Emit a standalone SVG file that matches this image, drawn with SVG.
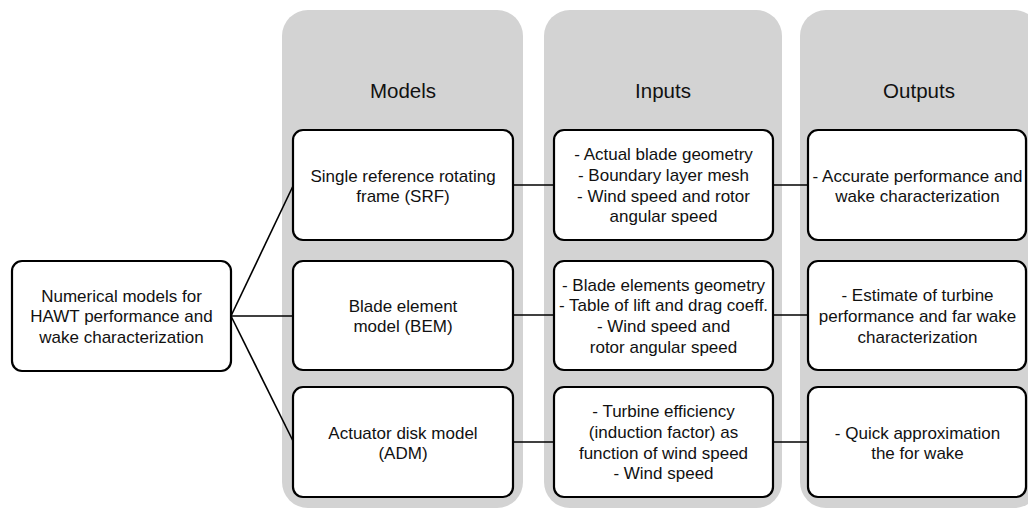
<svg xmlns="http://www.w3.org/2000/svg" width="1028" height="509" viewBox="0 0 1028 509">
<style>
.col{fill:#d3d3d3;stroke:none}
.box{fill:#fff;stroke:#000;stroke-width:2.2}
.hdr{font-family:"Liberation Sans",Arial,sans-serif;font-size:20.5px;fill:#111;text-anchor:middle}
.t{font-family:"Liberation Sans",Arial,sans-serif;font-size:17px;fill:#111;text-anchor:middle}
.c{stroke:#000;stroke-width:1.6;fill:none}
</style>
<rect width="1028" height="509" fill="#fff"/>
<g id="columns">
<rect class="col" x="282" y="10" width="241" height="498" rx="26"/>
<rect class="col" x="544" y="10" width="238" height="498" rx="26"/>
<rect class="col" x="800" y="10" width="240" height="498" rx="26"/>
<text class="hdr" x="403" y="98">Models</text>
<text class="hdr" x="663" y="98">Inputs</text>
<text class="hdr" x="919" y="98">Outputs</text>
</g>
<g id="connectors">
<line class="c" x1="231" y1="316" x2="293" y2="186"/>
<line class="c" x1="231" y1="316" x2="293" y2="316"/>
<line class="c" x1="231" y1="316" x2="293" y2="441"/>
<line class="c" x1="513" y1="185" x2="554" y2="185"/>
<line class="c" x1="773" y1="185" x2="808" y2="185"/>
<line class="c" x1="513" y1="315" x2="554" y2="315"/>
<line class="c" x1="773" y1="315" x2="808" y2="315"/>
<line class="c" x1="513" y1="442" x2="554" y2="442"/>
<line class="c" x1="773" y1="442" x2="808" y2="442"/>
</g>
<g id="root">
<rect class="box" x="12" y="261" width="219" height="110" rx="10"/>
<text class="t" x="121.5" y="301.5">Numerical models for</text>
<text class="t" x="121.5" y="322">HAWT performance and</text>
<text class="t" x="121.5" y="342.5">wake characterization</text>
</g>
<g id="srf">
<rect class="box" x="293" y="130" width="220" height="110" rx="10"/>
<text class="t" x="403" y="181.5">Single reference rotating</text>
<text class="t" x="403" y="202">frame (SRF)</text>
</g>
<g id="bem">
<rect class="box" x="293" y="261" width="220" height="109" rx="10"/>
<text class="t" x="403" y="311.5">Blade element</text>
<text class="t" x="403" y="332">model (BEM)</text>
</g>
<g id="adm">
<rect class="box" x="293" y="387" width="220" height="110" rx="10"/>
<text class="t" x="403" y="438.5">Actuator disk model</text>
<text class="t" x="403" y="459">(ADM)</text>
</g>
<g id="in-srf">
<rect class="box" x="554" y="130" width="219" height="110" rx="10"/>
<text class="t" x="663.5" y="160">- Actual blade geometry</text>
<text class="t" x="663.5" y="180.8">- Boundary layer mesh</text>
<text class="t" x="663.5" y="201.6">- Wind speed and rotor</text>
<text class="t" x="663.5" y="222.4">angular speed</text>
</g>
<g id="in-bem">
<rect class="box" x="554" y="261" width="219" height="109" rx="10"/>
<text class="t" x="663.5" y="290.5">- Blade elements geometry</text>
<text class="t" x="663.5" y="311.3">- Table of lift and drag coeff.</text>
<text class="t" x="663.5" y="332.1">- Wind speed and</text>
<text class="t" x="663.5" y="352.9">rotor angular speed</text>
</g>
<g id="in-adm">
<rect class="box" x="554" y="387" width="219" height="110" rx="10"/>
<text class="t" x="663.5" y="417">- Turbine efficiency</text>
<text class="t" x="663.5" y="437.8">(induction factor) as</text>
<text class="t" x="663.5" y="458.6">function of wind speed</text>
<text class="t" x="663.5" y="479.4">- Wind speed</text>
</g>
<g id="out-srf">
<rect class="box" x="808" y="130" width="218" height="110" rx="10"/>
<text class="t" x="917.5" y="181.5">- Accurate performance and</text>
<text class="t" x="917.5" y="202">wake characterization</text>
</g>
<g id="out-bem">
<rect class="box" x="808" y="261" width="218" height="109" rx="10"/>
<text class="t" x="917.5" y="301">- Estimate of turbine</text>
<text class="t" x="917.5" y="321.8">performance and far wake</text>
<text class="t" x="917.5" y="342.6">characterization</text>
</g>
<g id="out-adm">
<rect class="box" x="808" y="387" width="218" height="110" rx="10"/>
<text class="t" x="917.5" y="438.5">- Quick approximation</text>
<text class="t" x="917.5" y="459">the for wake</text>
</g>
</svg>
